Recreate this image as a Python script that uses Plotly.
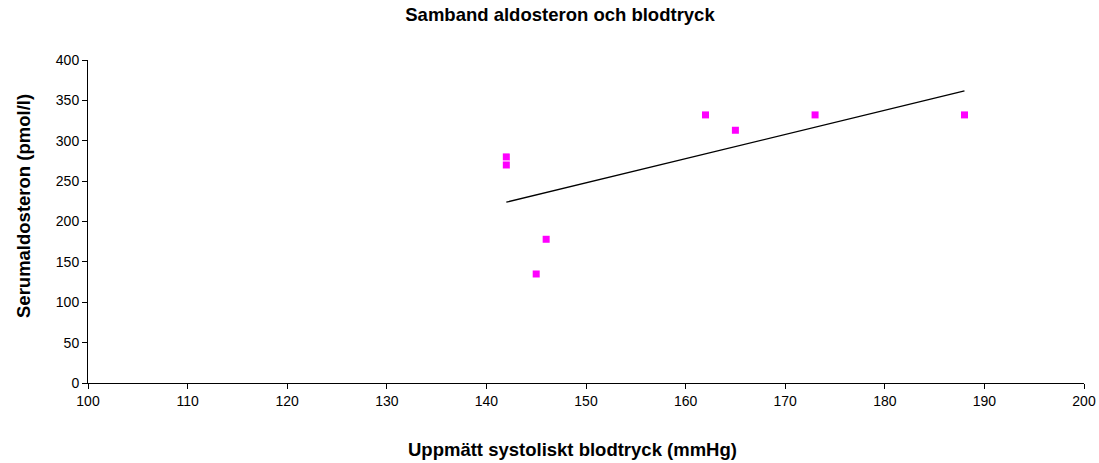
import numpy as np
import plotly.graph_objects as go

blodtryck = [142, 142, 145, 146, 162, 165, 173, 188]
aldosteron = [280, 270, 135, 178, 332, 313, 332, 332]

slope, intercept = np.polyfit(blodtryck, aldosteron, 1)
trend_x = [min(blodtryck), max(blodtryck)]
trend_y = [slope * v + intercept for v in trend_x]

fig = go.Figure()
fig.add_trace(go.Scatter(x=trend_x, y=trend_y, mode="lines",
                         line=dict(color="black", width=1.3), hoverinfo="skip"))
fig.add_trace(go.Scatter(x=blodtryck, y=aldosteron, mode="markers",
                         marker=dict(symbol="square", size=7, color="#FF00FF")))

font = "Liberation Sans, Arial, sans-serif"
W, H = 1099, 463
fig.update_layout(
    width=W, height=H,
    margin=dict(l=88, r=15, t=60, b=80, autoexpand=False),
    paper_bgcolor="white", plot_bgcolor="white",
    showlegend=False,
    font=dict(family=font, size=14, color="black"),
    title=dict(text="<b>Samband aldosteron och blodtryck</b>", x=560 / W, xanchor="center",
               y=1 - 15 / H, yanchor="middle", font=dict(size=18.5, family=font)),
    xaxis=dict(range=[100, 200], dtick=10, showgrid=False, zeroline=False,
               showline=True, linecolor="black", linewidth=1, automargin=False,
               ticks="outside", ticklen=5, tickcolor="black"),
    yaxis=dict(range=[0, 400], dtick=50, showgrid=False, zeroline=False,
               showline=True, linecolor="black", linewidth=1, automargin=False,
               ticks="outside", ticklen=5, tickcolor="black"),
    annotations=[
        dict(text="<b>Uppmätt systoliskt blodtryck (mmHg)</b>", xref="paper", yref="paper",
             x=(572 - 88) / 996, y=-(449 - 383) / 323, xanchor="center", yanchor="middle",
             showarrow=False, font=dict(size=18.5, family=font)),
        dict(text="<b>Serumaldosteron (pmol/l)</b>", xref="paper", yref="paper",
             x=-(88 - 23) / 996, y=(383 - 206) / 323, xanchor="center", yanchor="middle",
             textangle=-90, showarrow=False, font=dict(size=18.5, family=font)),
    ],
)
fig.write_html("out.html")
